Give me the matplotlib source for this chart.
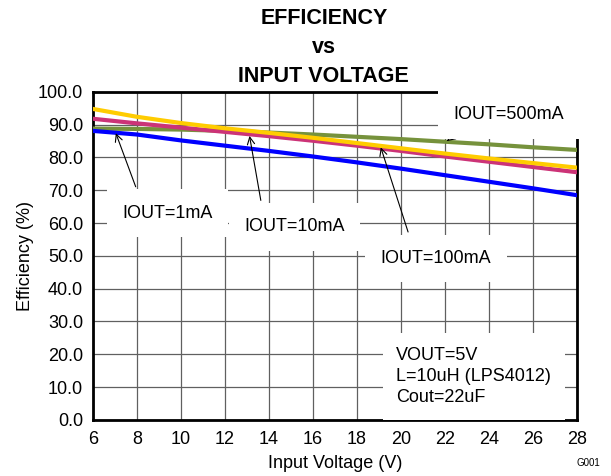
import matplotlib.pyplot as plt

plt.rcParams['font.family'] = ['Liberation Sans', 'DejaVu Sans']

# Input voltage (V)
vin = [6, 8, 10, 12, 14, 16, 18, 20, 22, 24, 26, 28]

# efficiency (%) per output current
eff_1mA = [88.1, 87.0, 85.2, 83.6, 82.0, 80.3, 78.5, 76.6, 74.6, 72.6, 70.6, 68.5]
eff_10mA = [91.8, 90.4, 89.1, 87.8, 86.5, 85.1, 83.6, 82.0, 80.3, 78.7, 77.1, 75.5]
eff_100mA = [94.8, 92.4, 90.5, 88.9, 87.5, 86.0, 84.4, 82.8, 81.2, 79.7, 78.3, 76.9]
eff_500mA = [88.8, 88.7, 88.5, 88.1, 87.6, 87.0, 86.3, 85.6, 84.8, 84.0, 83.1, 82.3]

fig = plt.figure(figsize=(6.11, 4.76), dpi=100)
ax = fig.add_axes([0.152, 0.118, 0.792, 0.689])

ax.plot(vin, eff_500mA, color="#76923c", lw=3, zorder=3)
ax.plot(vin, eff_100mA, color="#ffcc00", lw=3, zorder=4)
ax.plot(vin, eff_10mA, color="#cc3377", lw=3, zorder=3.5)
ax.plot(vin, eff_1mA, color="#0000ff", lw=3, zorder=5)

ax.set_xlim(6, 28)
ax.set_ylim(0, 100)
ax.set_xticks(range(6, 29, 2))
ax.set_yticks(range(0, 101, 10))
ax.set_yticklabels([f"{v:.1f}" for v in range(0, 101, 10)])
ax.tick_params(labelsize=13, length=0)
ax.tick_params(axis="y", pad=7)
ax.tick_params(axis="x", pad=8)
ax.grid(True, color="#606060", lw=0.9)
ax.set_axisbelow(True)
for s in ax.spines.values():
    s.set_linewidth(2)

ax.set_xlabel("Input Voltage (V)", fontsize=13, labelpad=5)
ax.set_ylabel("Efficiency (%)", fontsize=13, labelpad=3)

# title sits over the figure centre, not the axes centre
fig.text(0.53, 0.901, "EFFICIENCY\nvs\nINPUT VOLTAGE", fontsize=15.5, fontweight="bold",
         ha="center", va="center", multialignment="center", linespacing=1.5)

box = dict(facecolor="white", edgecolor="none", pad=11)

def arrow(rx, ry=1.0):
    return dict(arrowstyle="->", color="black", lw=0.8, relpos=(rx, ry))

ax.annotate("IOUT=1mA", xy=(7.0, 88.2), xytext=(9.4, 63.0), fontsize=13,
            ha="center", va="center", bbox=box, arrowprops=arrow(0.22), zorder=6)
ax.annotate("IOUT=10mA", xy=(13.1, 87.4), xytext=(15.15, 58.8), fontsize=13,
            ha="center", va="center", bbox=box, arrowprops=arrow(0.2), zorder=6)
ax.annotate("IOUT=100mA", xy=(19.05, 83.9), xytext=(21.6, 49.2), fontsize=13,
            ha="center", va="center", bbox=box, arrowprops=arrow(0.3), zorder=6)
ax.annotate("IOUT=500mA", xy=(22.1, 85.0), xytext=(24.9, 93.0), fontsize=13,
            ha="center", va="center", bbox=box, arrowprops=arrow(0.15, 0.0), zorder=6)

ax.text(19.8, 13.3, "VOUT=5V\nL=10uH (LPS4012)\nCout=22uF", fontsize=13,
        ha="left", va="center", linespacing=1.3,
        bbox=dict(facecolor="white", edgecolor="none", pad=10), zorder=6)

fig.text(0.982, 0.02, "G001", fontsize=7, ha="right")

plt.savefig("out.png", dpi=100)
